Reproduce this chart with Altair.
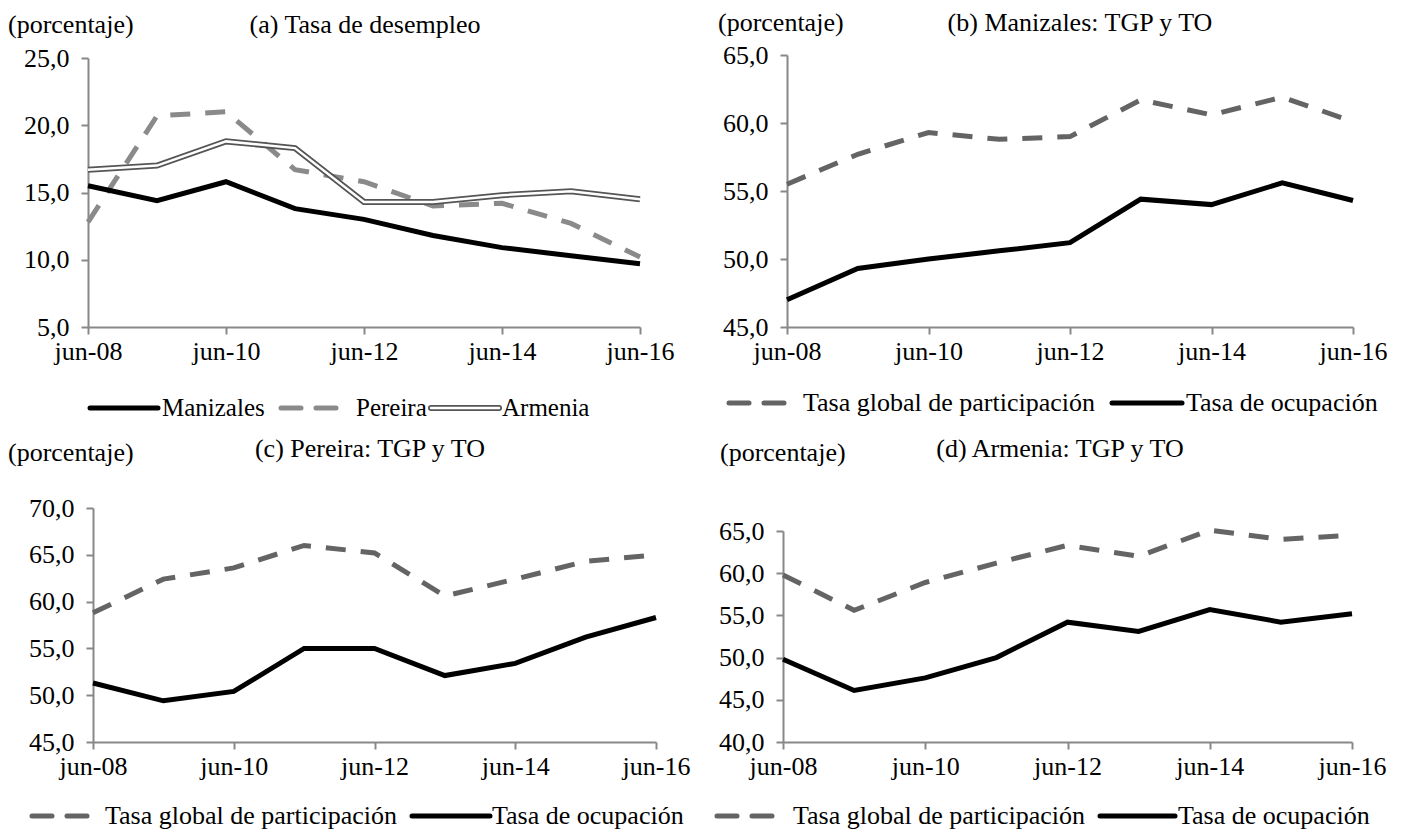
import altair as alt
import pandas as pd

FONT = "Liberation Serif"
FS = 26

periodos = ["jun-08", "jun-09", "jun-10", "jun-11", "jun-12", "jun-13", "jun-14", "jun-15", "jun-16"]
x_ticks = ["jun-08", "jun-10", "jun-12", "jun-14", "jun-16"]

# (a) Tasa de desempleo
td_manizales = [15.5, 14.4, 15.8, 13.8, 13.0, 11.8, 10.9, 10.3, 9.7]
td_pereira = [12.8, 20.7, 21.0, 16.7, 15.8, 14.0, 14.2, 12.7, 10.2]
td_armenia = [16.7, 17.0, 18.8, 18.3, 14.3, 14.3, 14.8, 15.1, 14.5]

# (b) Manizales
tgp_manizales = [55.5, 57.7, 59.3, 58.8, 59.0, 61.7, 60.6, 61.9, 60.1]
to_manizales = [47.0, 49.3, 50.0, 50.6, 51.2, 54.4, 54.0, 55.6, 54.3]
# (c) Pereira
tgp_pereira = [58.8, 62.4, 63.6, 66.0, 65.2, 60.6, 62.4, 64.3, 65.0]
to_pereira = [51.3, 49.4, 50.4, 55.0, 55.0, 52.1, 53.4, 56.2, 58.3]
# (d) Armenia
tgp_armenia = [59.8, 55.6, 58.9, 61.2, 63.3, 62.0, 65.1, 64.0, 64.5]
to_armenia = [49.8, 46.1, 47.6, 50.0, 54.2, 53.1, 55.7, 54.2, 55.2]

y_ticks_a = [5, 10, 15, 20, 25]
y_ticks_b = [45, 50, 55, 60, 65]
y_ticks_c = [45, 50, 55, 60, 65, 70]
y_ticks_d = [40, 45, 50, 55, 60, 65]

label_expr = "replace(format(datum.value, '.1f'), '.', ',')"

GRAY_A = "#8a8a8a"
GRAY_D = "#646464"
DASH = [20, 15]


def xenc(xr=None):
    sc = dict(type="point", padding=0, domain=periodos)
    if xr is not None:
        sc["range"] = xr
    return alt.X("periodo:O", sort=periodos, scale=alt.Scale(**sc),
                 axis=alt.Axis(values=x_ticks, labelAngle=0, title=None,
                               tickSize=7, labelPadding=4))


def yenc(ticks, yr=None, off=0):
    sc = dict(domain=[ticks[0], ticks[-1]], nice=False, zero=False)
    if yr is not None:
        sc["range"] = yr
    return alt.Y("valor:Q", scale=alt.Scale(**sc),
                 axis=alt.Axis(values=ticks, labelExpr=label_expr, title=None,
                               tickSize=7, labelPadding=12, offset=off))


def serie(vals, ticks, xr=None, yr=None, off=0, **mk):
    df = pd.DataFrame({"periodo": periodos, "valor": vals})
    return alt.Chart(df).mark_line(**mk).encode(x=xenc(xr), y=yenc(ticks, yr, off))


def one():
    return pd.DataFrame({"k": [0]})


def texto(s, x, y, align="left", size=FS):
    return alt.Chart(one()).mark_text(align=align, baseline="middle", font=FONT,
                                       fontSize=size, color="black").encode(
        x=alt.value(x), y=alt.value(y), text=alt.value(s))


def muestra(x0, x1, y, kind):
    base = alt.Chart(one())
    enc = dict(x=alt.value(x0), x2=alt.value(x1), y=alt.value(y))
    if kind == "solid":
        return [base.mark_rule(color="black", strokeWidth=5, strokeCap="round").encode(**enc)]
    if kind == "dashA":
        return [base.mark_rule(color=GRAY_A, strokeWidth=5, strokeDash=DASH, strokeCap="round").encode(**enc)]
    if kind == "dashD":
        return [base.mark_rule(color=GRAY_D, strokeWidth=5, strokeDash=DASH, strokeCap="round").encode(**enc)]
    if kind == "double":
        return [base.mark_rule(color="#555555", strokeWidth=6, strokeCap="round").encode(**enc),
                base.mark_rule(color="white", strokeWidth=2.5, strokeCap="round").encode(**enc)]


def leyenda(items, y, size=FS):
    layers = []
    for x0, x1, kind, tx, label in items:
        layers += muestra(x0, x1, y, kind)
        layers.append(texto(label, tx, y, size=size))
    return layers


# Row 1 frames share a top edge; panel (a) is shifted 5 px left and 3 px down inside its frame
H1 = 272

# Panel (a)
Wa = 552
xr_a = [-5, Wa - 5]
yr_a = [H1, 3]
panel_a = alt.layer(
    serie(td_pereira, y_ticks_a, xr_a, yr_a, 5, color=GRAY_A, strokeWidth=5, strokeDash=DASH),
    serie(td_armenia, y_ticks_a, xr_a, yr_a, 5, color="#555555", strokeWidth=6),
    serie(td_armenia, y_ticks_a, xr_a, yr_a, 5, color="white", strokeWidth=2.5),
    serie(td_manizales, y_ticks_a, xr_a, yr_a, 5, color="black", strokeWidth=5),
    texto("(porcentaje)", -85, -30),
    texto("(a) Tasa de desempleo", 272, -30, align="center"),
    *leyenda([(-3, 65, "solid", 69, "Manizales"),
              (188, 258, "dashA", 263, "Pereira"),
              (338, 406, "double", 409, "Armenia")], H1 + 81, size=25),
).properties(width=Wa, height=H1)

# Panel (b)
Wb = 566
panel_b = alt.layer(
    serie(tgp_manizales, y_ticks_b, color=GRAY_D, strokeWidth=5, strokeDash=DASH),
    serie(to_manizales, y_ticks_b, color="black", strokeWidth=5),
    texto("(porcentaje)", -69, -32),
    texto("(b) Manizales: TGP y TO", 293, -32, align="center"),
    *leyenda([(-58, 8, "dashD", 16, "Tasa global de participación"),
              (325, 395, "solid", 399, "Tasa de ocupación")], H1 + 76),
).properties(width=Wb, height=H1)

# Row 2 frames share a top edge; panel (d) plot starts 23 px lower
H2 = 234

# Panel (c)
Wc = 563
panel_c = alt.layer(
    serie(tgp_pereira, y_ticks_c, color=GRAY_D, strokeWidth=5, strokeDash=DASH),
    serie(to_pereira, y_ticks_c, color="black", strokeWidth=5),
    texto("(porcentaje)", -85, -55),
    texto("(c) Pereira: TGP y TO", 277, -59, align="center"),
    *leyenda([(-61, 5, "dashD", 12, "Tasa global de participación"),
              (319, 397, "solid", 399, "Tasa de ocupación")], H2 + 74),
).properties(width=Wc, height=H2)

# Panel (d)
Wd = 569
yr_d = [H2, 23]
panel_d = alt.layer(
    serie(tgp_armenia, y_ticks_d, None, yr_d, color=GRAY_D, strokeWidth=5, strokeDash=DASH),
    serie(to_armenia, y_ticks_d, None, yr_d, color="black", strokeWidth=5),
    texto("(porcentaje)", -63, -55),
    texto("(d) Armenia: TGP y TO", 277, -59, align="center"),
    *leyenda([(-66, 2, "dashD", 10, "Tasa global de participación"),
              (317, 392, "solid", 395, "Tasa de ocupación")], H2 + 74),
).properties(width=Wd, height=H2)

fila1 = alt.hconcat(panel_a, panel_b, spacing=44)
fila2 = alt.hconcat(panel_c, panel_d, spacing=24)

chart = alt.vconcat(fila1, fila2, spacing=15).properties(
    padding={"left": 0, "top": 2, "right": 0, "bottom": 0}, background="white"
).configure_view(stroke=None).configure_axis(
    grid=False,
    domainColor="#888888", domainWidth=2,
    tickColor="#888888", tickWidth=2,
    labelFont=FONT, labelFontSize=FS, labelColor="black",
).configure_concat(spacing=15)

chart.save("out.html", embed_options={"renderer": "svg", "actions": False})
